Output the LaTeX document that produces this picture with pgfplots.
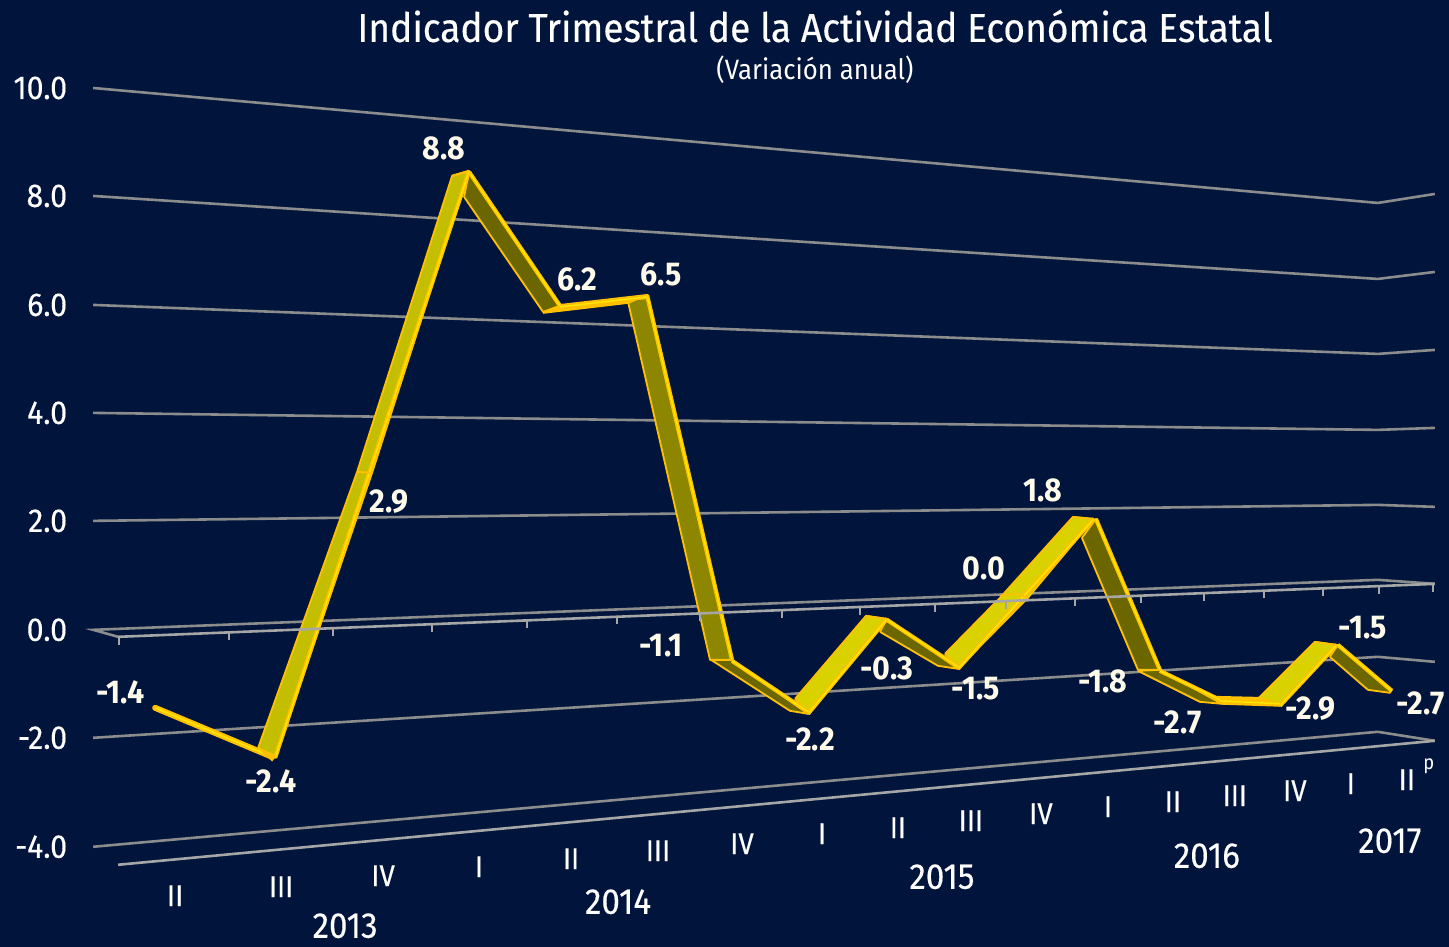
\documentclass[border=0pt]{standalone}
\usepackage{fontspec}
\setmainfont[FakeStretch=0.92]{Fira Sans}
\newfontfamily\tfont[FakeStretch=0.92,FakeBold=0.35]{Fira Sans}
\usepackage{pgfplots}
\pgfplotsset{compat=1.18}
\definecolor{bgnavy}{HTML}{00143C}
\definecolor{gridg}{HTML}{8C8C8C}
\definecolor{frontg}{HTML}{A6A6A6}
\definecolor{edgeo}{HTML}{FFC000}
\definecolor{hly}{HTML}{FFE600}
\definecolor{rbA}{HTML}{C4BE00}
\definecolor{rbB}{HTML}{DAD200}
\definecolor{rbC}{HTML}{6B6600}
\definecolor{rbD}{HTML}{8C8600}
\definecolor{cream}{HTML}{FFFBEB}
\newcommand\ribbon[3]{%
  \addplot[fill=#1,draw=edgeo,line width=0.9pt,line join=round] coordinates {#2};
  \addplot[edgeo,line width=2.1pt,line join=round] coordinates {#3};
  \addplot[hly,line width=0.7pt,line join=round] coordinates {#3};
}
\newcommand\val[2]{\node[inner sep=0pt,font=\fontsize{16.5}{18}\selectfont\bfseries,text=cream] at (axis cs:#1) {#2};}
\newcommand\cat[2]{\node[inner sep=0pt,font=\tfont\fontsize{15}{17}\selectfont,text=white] at (axis cs:#1) {#2};}
\newcommand\yr[2]{\node[inner sep=0pt,font=\tfont\fontsize{18}{20}\selectfont,text=white] at (axis cs:#1) {#2};}
\begin{document}
\begin{tikzpicture}
\begin{axis}[
  scale only axis, width=724.5pt, height=473.5pt,
  xmin=0, xmax=1449, ymin=0, ymax=947, y dir=reverse,
  clip=false,
  axis background/.style={fill=bgnavy},
  axis line style={draw=none,line width=0pt},
  major tick length=0pt,
  xtick=\empty,
  ytick={88,196,305,413,521,630,738,847},
  yticklabels={10.0,8.0,6.0,4.0,2.0,0.0,-2.0,-4.0},
  yticklabel style={anchor=east,xshift=37pt,text=white,font=\tfont\fontsize{16.5}{18}\selectfont},
  every axis plot/.append style={mark=none},
  unbounded coords=jump,
]
% back grid
\addplot[gridg,line width=1.3pt] coordinates {(93,88) (1378,203) (1435,194)};
\addplot[gridg,line width=1.3pt] coordinates {(93,196) (1378,279) (1435,272)};
\addplot[gridg,line width=1.3pt] coordinates {(93,305) (1378,354) (1435,350)};
\addplot[gridg,line width=1.3pt] coordinates {(93,413) (1378,430) (1435,428)};
\addplot[gridg,line width=1.3pt] coordinates {(93,521) (1378,505) (1435,507)};
\addplot[gridg,line width=1.3pt] coordinates {(118,637) (93,630) (1378,580) (1435,584)};
\addplot[gridg,line width=1.3pt] coordinates {(93,738) (1378,657) (1435,662)};
\addplot[gridg,line width=1.3pt] coordinates {(93,847) (1378,732) (1435,741)};
\addplot[frontg,line width=1.3pt] coordinates {(118,865) (1435,741)};
% ribbon
\ribbon{rbC}{(1330,657) (1338,645) (1392,690) (1390,693) (1368,690) (1330,657)}{(1338,645) (1392,691)}
\ribbon{rbB}{(1259,698) (1280,706) (1337,645) (1315,642) (1259,698)}{(1280,706) (1337,645)}
\addplot[edgeo,line width=0.8pt] coordinates {(1315,642) (1337,645)};
\ribbon{edgeo}{(1217,697) (1260,698) (1280,706) (1222,704) (1217,697)}{(1219,701) (1280,704)}
\ribbon{rbC}{(1138,671) (1200,702) (1222,704) (1160,670) (1138,671)}{(1160,671) (1220,700)}
\ribbon{rbC}{(1082,538) (1096,519) (1160,670) (1138,670) (1082,538)}{(1096,519) (1160,670)}
\ribbon{rbB}{(945,654) (958,669) (1028,598) (1094,519) (1073,517) (1000,598) (945,654)}{(958,669) (1094,519)}
\addplot[edgeo,line width=0.8pt] coordinates {(1073,517) (1094,519)};
\addplot[edgeo,line width=0.7pt] coordinates {(1000,596) (1018,594) (1028,598)};
\ribbon{rbC}{(880,632) (938,666) (958,669) (887,619) (880,632)}{(887,620) (958,667)}
\ribbon{rbB}{(795,699) (808,714) (887,619) (866,616) (795,699)}{(808,714) (887,619)}
\addplot[edgeo,line width=0.9pt] coordinates {(866,616) (887,619)};
\ribbon{rbC}{(711,660) (790,711) (808,714) (732,660) (711,660)}{(732,661) (808,712)}
\ribbon{rbD}{(628,302) (647,295) (732,660) (710,660) (628,302)}{(647,295) (732,660)}
\addplot[edgeo,line width=0.9pt] coordinates {(710,660) (732,660)};
\ribbon{edgeo}{(543,313) (560,305) (647,295) (628,303) (543,313)}{(560,307) (647,297)}
\ribbon{rbC}{(464,197) (469,172) (559,306) (543,312) (464,197)}{(469,172) (560,306)}
\ribbon{rbA}{(258,748) (275,758) (372,473) (469,171) (452,176) (357,472) (258,748)}{(275,758) (469,171)}
\addplot[edgeo,line width=1pt] coordinates {(357,472) (372,473)};
\addplot[edgeo,line width=1.2pt] coordinates {(452,176) (469,171)};
\addplot[edgeo,line width=3pt,line cap=round] coordinates {(155,708) (272,757)};
\addplot[hly,line width=0.8pt] coordinates {(155,708) (272,757)};
\addplot[fill=edgeo,draw=edgeo,line width=0.5pt] coordinates {(258,748) (275,756) (272,761) (258,748)};
% front zero plane with ticks
\addplot[frontg,line width=1.3pt] coordinates {(118,637) (1435,584)};
\addplot[frontg,line width=1.1pt] coordinates {
 (119,637) (119,645) (nan,nan) (229,633) (229,640) (nan,nan) (333,629) (333,636) (nan,nan)
 (432,625) (432,632) (nan,nan) (527,621) (527,628) (nan,nan) (617,617) (617,624) (nan,nan)
 (700,614) (700,621) (nan,nan) (782,611) (782,618) (nan,nan) (860,608) (860,615) (nan,nan)
 (935,605) (935,612) (nan,nan) (1006,602) (1006,609) (nan,nan) (1075,599) (1075,606) (nan,nan)
 (1141,596) (1141,603) (nan,nan) (1204,594) (1204,601) (nan,nan) (1264,591) (1264,598) (nan,nan)
 (1323,589) (1323,596) (nan,nan) (1379,587) (1379,594) (nan,nan) (1433,584) (1433,592)};
% title
\node[inner sep=0pt,text=white,font=\tfont\fontsize{20.2}{23}\selectfont] at (axis cs:815,26) {Indicador Trimestral de la Actividad Económica Estatal};
\node[inner sep=0pt,text=white,font=\fontsize{14}{16}\selectfont] at (axis cs:815,70) {(Variación anual)};
% values
\val{120,693}{-1.4}
\val{271,782}{-2.4}
\val{389,502}{2.9}
\val{444,148}{8.8}
\val{577,279}{6.2}
\val{661,274}{6.5}
\val{661,646}{-1.1}
\val{810,740}{-2.2}
\val{887,669}{-0.3}
\val{976,689}{-1.5}
\val{984,569}{0.0}
\val{1043,491}{1.8}
\val{1103,682}{-1.8}
\val{1178,723}{-2.7}
\val{1311,709}{-2.9}
\val{1363,628}{-1.5}
\val{1421,704}{-2.7}
% quarters
\cat{175,896}{II}
\cat{281,887}{III}
\cat{383,876}{IV}
\cat{479,867}{I}
\cat{571,859}{II}
\cat{658,851}{III}
\cat{742,844}{IV}
\cat{822,834}{I}
\cat{898,828}{II}
\cat{971,821}{III}
\cat{1041,814}{IV}
\cat{1108,807}{I}
\cat{1173,802}{II}
\cat{1235,796}{III}
\cat{1295,791}{IV}
\cat{1351,784}{I}
\cat{1407,780}{II}
\node[inner sep=0pt,text=white,font=\fontsize{10}{11}\selectfont] at (axis cs:1429,766) {p};
\yr{345,926}{2013}
\yr{618,902}{2014}
\yr{942,877}{2015}
\yr{1207,856}{2016}
\yr{1390,841}{2017}
\end{axis}
\end{tikzpicture}
\end{document}
